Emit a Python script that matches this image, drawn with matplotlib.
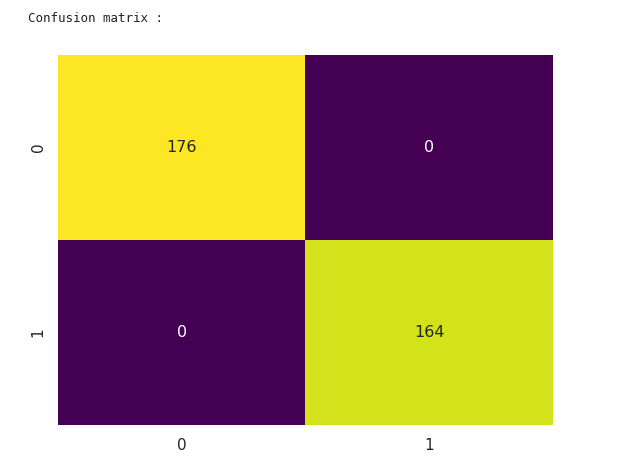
import matplotlib
matplotlib.use("Agg")
import matplotlib.pyplot as plt
import numpy as np
import seaborn as sns

labels = ["0", "1"]
row_0 = [176, 0]
row_1 = [0, 164]

cm = np.array([row_0, row_1])

fig = plt.figure(figsize=(6.23, 4.67), dpi=100)
ax = fig.add_axes([0.0931, 0.0899, 0.7945, 0.7923])

sns.heatmap(cm, annot=True, fmt="d", cmap="viridis", cbar=False,
            xticklabels=labels, yticklabels=labels, ax=ax,
            annot_kws={"fontsize": 11.5})

ax.tick_params(length=0, labelsize=11, colors="#262626")
ax.tick_params(axis="x", pad=9)
ax.tick_params(axis="y", pad=9)

fig.text(28 / 623, 1 - 18 / 467, "Confusion matrix :", family="DejaVu Sans Mono",
         fontsize=9, color="#222222", va="center", ha="left")

fig.savefig("out.png", dpi=100)
